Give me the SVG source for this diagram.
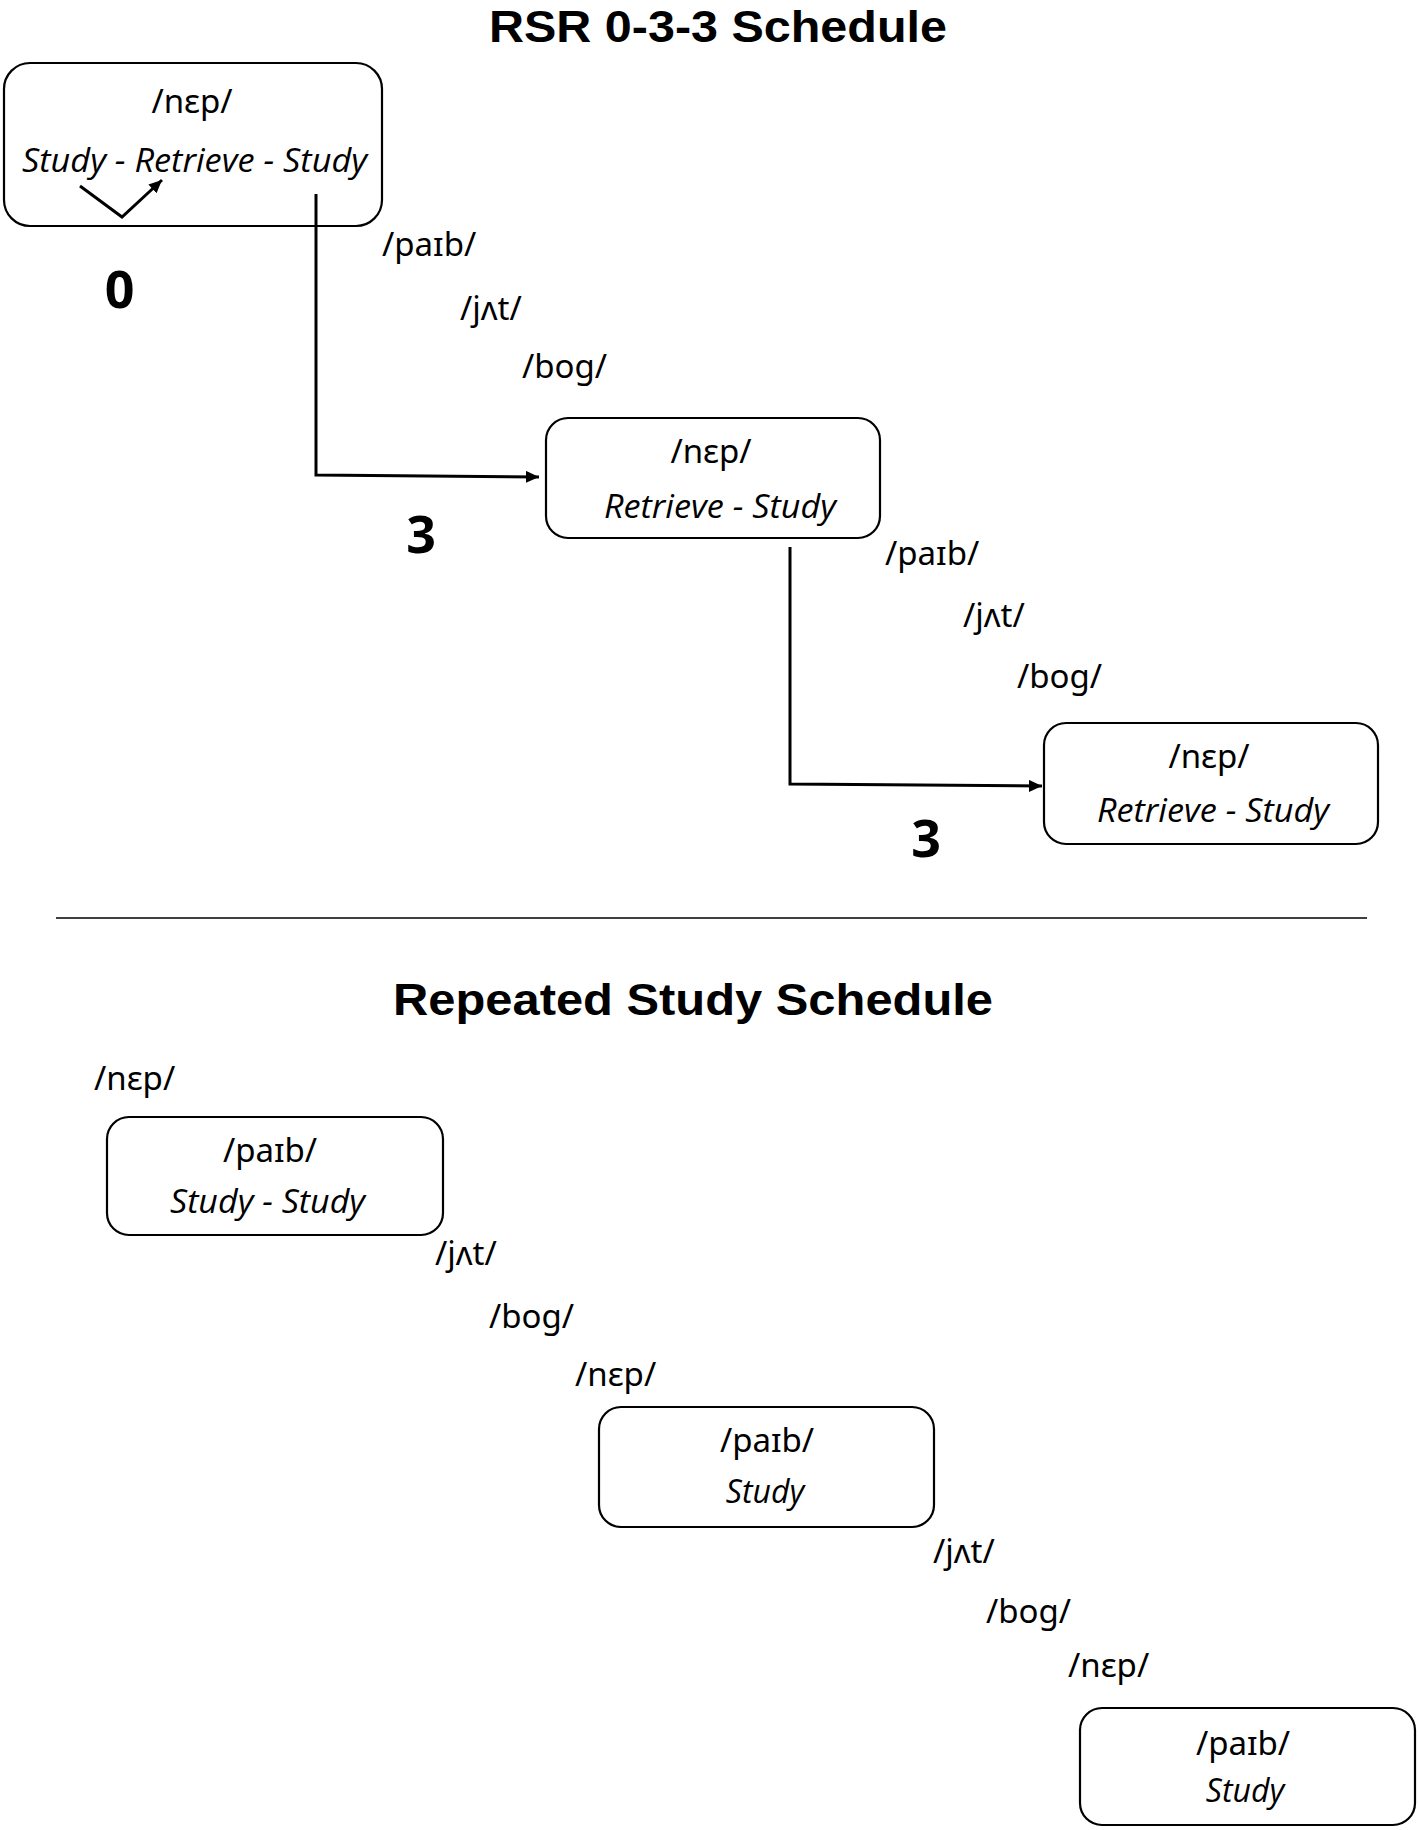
<svg xmlns="http://www.w3.org/2000/svg" width="1418" height="1830" viewBox="0 0 1418 1830">
<style>
.bg{fill:#fff}
.box{fill:#fff;stroke:#000;stroke-width:2.2}
.title{font-family:"Liberation Sans","Open Sans",sans-serif;font-weight:bold;font-size:44px;fill:#000;text-anchor:middle}
.ipa{font-family:"Noto Sans","DejaVu Sans",sans-serif;font-size:33px;fill:#000}
.ipac{font-family:"Noto Sans","DejaVu Sans",sans-serif;font-size:33px;fill:#000;text-anchor:middle}
.task{font-family:"Open Sans","Liberation Sans",sans-serif;font-style:italic;font-size:32px;fill:#000;text-anchor:middle}
.num{font-family:"Open Sans","Liberation Sans",sans-serif;font-weight:bold;font-size:52px;fill:#000;text-anchor:middle}
.conn{fill:none;stroke:#000;stroke-width:3}
.rule{stroke:#000;stroke-width:1.6}
</style>
<defs>
<marker id="arrow" markerUnits="userSpaceOnUse" markerWidth="14" markerHeight="12" refX="13" refY="6" orient="auto">
<path d="M0,0 L13,6 L0,12 z" fill="#000"/>
</marker>
</defs>
<rect class="bg" x="0" y="0" width="1418" height="1830"/>

<text class="title" x="718" y="42" textLength="458" lengthAdjust="spacingAndGlyphs">RSR 0-3-3 Schedule</text>
<text class="title" x="693" y="1015" textLength="600" lengthAdjust="spacingAndGlyphs">Repeated Study Schedule</text>

<line class="rule" x1="56" y1="918" x2="1367" y2="918"/>

<g id="node-rsr-1">
<rect class="box" x="4" y="63" width="378" height="163" rx="26"/>
<text class="ipac" x="192" y="113">/nɛp/</text>
<text class="task" x="194.5" y="172" textLength="345" lengthAdjust="spacingAndGlyphs">Study - Retrieve - Study</text>
<polyline class="conn" points="80,186 122,217 162,180" marker-end="url(#arrow)"/>
</g>

<g id="node-rsr-2">
<rect class="box" x="546" y="418" width="334" height="120" rx="22"/>
<text class="ipac" x="711" y="463">/nɛp/</text>
<text class="task" x="720" y="518" textLength="232" lengthAdjust="spacingAndGlyphs">Retrieve - Study</text>
</g>

<g id="node-rsr-3">
<rect class="box" x="1044" y="723" width="334" height="121" rx="22"/>
<text class="ipac" x="1209" y="768">/nɛp/</text>
<text class="task" x="1213" y="822" textLength="232" lengthAdjust="spacingAndGlyphs">Retrieve - Study</text>
</g>

<g id="fillers-rsr">
<text class="ipa" x="382" y="256">/paɪb/</text>
<text class="ipa" x="460" y="320">/jʌt/</text>
<text class="ipa" x="522" y="378">/bog/</text>
<text class="ipa" x="885" y="565">/paɪb/</text>
<text class="ipa" x="963" y="627">/jʌt/</text>
<text class="ipa" x="1017" y="688">/bog/</text>
<text class="num" x="119.5" y="308">0</text>
<text class="num" x="421" y="553">3</text>
<text class="num" x="926" y="857">3</text>
</g>

<g id="connectors">
<path class="conn" d="M316,194 L316,475 L539,477" marker-end="url(#arrow)"/>
<path class="conn" d="M790,547 L790,784 L1042,786" marker-end="url(#arrow)"/>
</g>

<g id="node-rs-1">
<rect class="box" x="107" y="1117" width="336" height="118" rx="22"/>
<text class="ipac" x="270" y="1162">/paɪb/</text>
<text class="task" x="267.5" y="1213" textLength="195" lengthAdjust="spacingAndGlyphs">Study - Study</text>
</g>

<g id="node-rs-2">
<rect class="box" x="599" y="1407" width="335" height="120" rx="22"/>
<text class="ipac" x="767" y="1452">/paɪb/</text>
<text class="task" x="765" y="1503">Study</text>
</g>

<g id="node-rs-3">
<rect class="box" x="1080" y="1708" width="335" height="117" rx="22"/>
<text class="ipac" x="1243" y="1755">/paɪb/</text>
<text class="task" x="1245" y="1802">Study</text>
</g>

<g id="fillers-rs">
<text class="ipa" x="94" y="1090">/nɛp/</text>
<text class="ipa" x="435" y="1265">/jʌt/</text>
<text class="ipa" x="489" y="1328">/bog/</text>
<text class="ipa" x="575" y="1386">/nɛp/</text>
<text class="ipa" x="933" y="1563">/jʌt/</text>
<text class="ipa" x="986" y="1623">/bog/</text>
<text class="ipa" x="1068" y="1677">/nɛp/</text>
</g>
</svg>
